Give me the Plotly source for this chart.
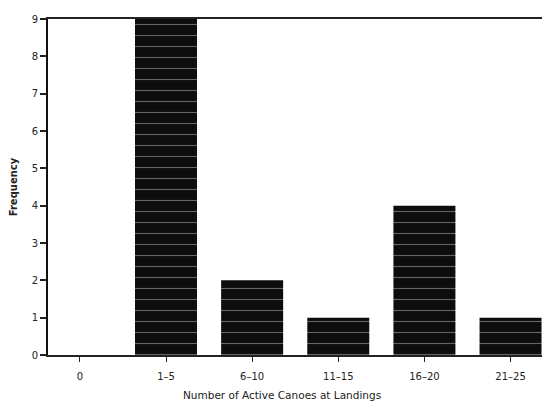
import plotly.graph_objects as go

categories = ["0", "1-5", "6-10", "11-15", "16-20", "21-25"]
frequency = [0, 9, 2, 1, 4, 1]
tick_labels = ["0", "1\u20135", "6\u201310", "11\u201315", "16\u201320", "21\u201325"]

fig = go.Figure()
fig.add_trace(go.Bar(
    x=list(range(len(categories))),
    y=frequency,
    width=0.72,
    marker=dict(
        color="#111111",
        line=dict(width=0),
        pattern=dict(shape="-", fgcolor="#bbbbbb", bgcolor="#0d0d0d", size=11, solidity=0.1),
    ),
    showlegend=False,
))

font = dict(family="DejaVu Sans, Liberation Sans, sans-serif", size=10, color="#222")
fig.update_layout(
    width=542, height=402,
    margin=dict(l=40, r=5, t=9, b=55),
    paper_bgcolor="white", plot_bgcolor="white",
    font=font,
    xaxis=dict(
        range=[-0.37, 5.4],
        tickmode="array",
        tickvals=list(range(len(categories))),
        ticktext=tick_labels,
        ticks="outside", ticklen=5, tickcolor="#222", tickwidth=1,
        ticklabelstandoff=6,
        showline=True, linecolor="#222", linewidth=1.5, mirror=True,
        showgrid=False, zeroline=False,
        tickfont=dict(size=10),
    ),
    yaxis=dict(
        range=[0, 9],
        dtick=1,
        ticks="outside", ticklen=6, tickcolor="#222", tickwidth=1.5,
        showline=True, linecolor="#111", linewidth=2,
        showgrid=False, zeroline=False,
        tickfont=dict(size=10),
        title=dict(text="<b>Frequency</b>", font=dict(size=10), standoff=12),
    ),
    annotations=[dict(
        text="Number of Active Canoes at Landings",
        xref="paper", yref="paper", x=0.47, y=-0.118,
        xanchor="center", yanchor="middle", showarrow=False,
        font=dict(size=10.5),
    )],
)

fig.write_html("out.html")
